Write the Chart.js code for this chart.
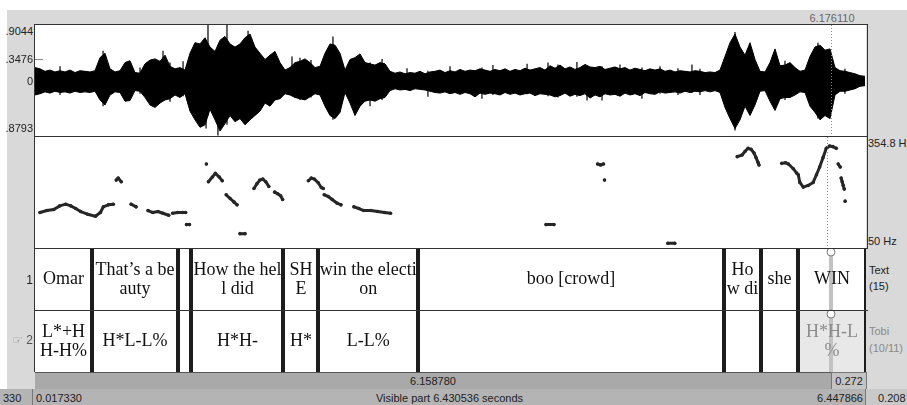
<!DOCTYPE html>
<html><head><meta charset="utf-8">
<script src="https://cdn.jsdelivr.net/npm/chart.js@4.4.1/dist/chart.umd.min.js"></script>
<style>
body{margin:0;width:907px;height:405px;position:relative;overflow:hidden;background:#fff;font-family:"Liberation Sans",Arial,sans-serif;}
.a{position:absolute}
.l{position:absolute;font-size:11px;line-height:14px;color:#222;white-space:nowrap}
.r{text-align:right}
.hl{position:absolute;height:1px;background:#333}
.vl{position:absolute;width:1px;background:#333}
canvas{position:absolute;display:block}
</style></head><body>
<div class="a" style="left:7px;top:10px;width:900px;height:395px;background:#d9d9d9"></div>
<div class="a" style="left:35px;top:25px;width:831px;height:347px;background:#fff"></div>
<canvas id="wave" width="831" height="111" style="left:35px;top:25px"></canvas>
<canvas id="pitch" width="831" height="110" style="left:35px;top:137px"></canvas>
<canvas id="tiers" width="831" height="124" style="left:35px;top:248px"></canvas>

<div class="hl" style="left:34px;top:24px;width:834px"></div>
<div class="hl" style="left:34px;top:136px;width:834px"></div>
<div class="hl" style="left:34px;top:248px;width:834px"></div>
<div class="hl" style="left:34px;top:310px;width:834px"></div>
<div class="vl" style="left:34px;top:24px;height:348px"></div>
<div class="vl" style="left:867px;top:24px;height:224px"></div>
<div class="a" style="left:35px;top:59px;width:8px;height:1px;background:#888"></div>

<!-- bottom rows -->
<div class="a" style="left:35px;top:372px;width:796px;height:16px;background:#a9a9a9;border-top:1px solid #555;border-bottom:1px solid #888"></div>
<div class="a" style="left:831px;top:372px;width:34px;height:16px;background:#c4c4c4;border:1px solid #777;border-bottom-color:#888"></div>
<div class="a" style="left:0px;top:389px;width:32px;height:16px;background:#b4b4b4;border-right:1px solid #777"></div>
<div class="a" style="left:33px;top:389px;width:832px;height:16px;background:#b4b4b4;border-right:1px solid #777"></div>
<div class="a" style="left:866px;top:389px;width:41px;height:16px;background:#c9c9c9"></div>

<div class="l" style="left:35px;top:373px;width:796px;line-height:16px;text-align:center">6.158780</div>
<div class="l" style="left:832px;top:373px;width:34px;line-height:16px;text-align:center">0.272</div>
<div class="l" style="left:3px;top:390px;line-height:16px">330</div>
<div class="l" style="left:36px;top:390px;line-height:16px">0.017330</div>
<div class="l" style="left:33px;top:390px;width:833px;line-height:16px;text-align:center">Visible part 6.430536 seconds</div>
<div class="l r" style="left:760px;top:390px;width:103px;line-height:16px">6.447866</div>
<div class="l" style="left:878px;top:390px;line-height:16px">0.208</div>

<div class="l r" style="left:0;width:33px;top:24px">.9044</div>
<div class="l r" style="left:0;width:33px;top:52px">.3476</div>
<div class="l r" style="left:0;width:33px;top:74px">0</div>
<div class="l r" style="left:0;width:33px;top:121px">.8793</div>
<div class="l" style="left:868px;top:136px">354.8 Hz</div>
<div class="l" style="left:868px;top:234px">50 Hz</div>
<div class="l" style="left:869px;top:263px">Text</div>
<div class="l" style="left:869px;top:279px">(15)</div>
<div class="l" style="left:869px;top:324px;color:#8a8a8a">Tobi</div>
<div class="l" style="left:869px;top:341px;color:#8a8a8a">(10/11)</div>
<div class="l r" style="left:0;width:33px;top:273px;font-size:12px">1</div>
<div class="l r" style="left:0;width:33px;top:333px;font-size:12px"><span style="color:#8f8f8f;font-family:'DejaVu Sans';font-size:12px">☞</span> <span style="color:#555">2</span></div>
<div class="l" style="left:792px;top:11px;width:80px;text-align:center;color:#666">6.176110</div>

<script>
// ---- time window ----
const tMin = 0.017330;
const tMax = 6.447866;
const cursorTime = 6.176110;

// ---- waveform envelope (amplitude), sampled on a regular time grid ----
const waveT0 = 0.01733;
const waveDt = 0.038692;
const waveTop = [0.22,0.20,0.16,0.18,0.15,0.17,0.15,0.18,0.14,0.17,0.16,0.15,0.17,0.38,0.45,0.20,0.15,0.17,0.30,0.33,
0.14,0.13,0.28,0.34,0.36,0.32,0.42,0.24,0.20,0.22,0.18,0.45,0.62,0.60,0.70,0.55,0.48,0.66,0.72,0.60,
0.55,0.60,0.70,0.76,0.55,0.45,0.35,0.42,0.48,0.30,0.18,0.22,0.30,0.32,0.36,0.30,0.22,0.24,0.45,0.60,
0.58,0.45,0.18,0.35,0.38,0.44,0.30,0.28,0.26,0.30,0.28,0.16,0.13,0.15,0.12,0.14,0.13,0.16,0.12,0.15,
0.16,0.18,0.14,0.17,0.15,0.19,0.16,0.18,0.17,0.20,0.18,0.16,0.19,0.17,0.20,0.16,0.19,0.17,0.21,0.18,
0.20,0.22,0.18,0.25,0.21,0.26,0.20,0.23,0.19,0.22,0.27,0.23,0.22,0.24,0.19,0.21,0.23,0.20,0.22,0.18,
0.21,0.19,0.17,0.20,0.18,0.20,0.16,0.18,0.15,0.17,0.16,0.15,0.17,0.16,0.14,0.15,0.14,0.18,0.40,0.62,
0.76,0.55,0.42,0.62,0.35,0.16,0.15,0.30,0.52,0.25,0.26,0.30,0.22,0.16,0.18,0.40,0.55,0.58,0.50,0.52,
0.22,0.17,0.16,0.14,0.12,0.09,0.08];
const waveBot = [-0.22,-0.20,-0.17,-0.19,-0.16,-0.18,-0.17,-0.19,-0.16,-0.18,-0.17,-0.18,-0.16,-0.30,-0.38,-0.22,-0.17,-0.18,-0.32,-0.31,
-0.15,-0.16,-0.26,-0.38,-0.42,-0.35,-0.30,-0.28,-0.22,-0.26,-0.20,-0.48,-0.62,-0.74,-0.70,-0.45,-0.62,-0.80,-0.68,-0.55,
-0.65,-0.60,-0.70,-0.62,-0.55,-0.48,-0.35,-0.40,-0.30,-0.28,-0.20,-0.22,-0.26,-0.28,-0.30,-0.25,-0.20,-0.22,-0.40,-0.55,
-0.60,-0.50,-0.18,-0.35,-0.55,-0.40,-0.32,-0.30,-0.32,-0.28,-0.26,-0.15,-0.12,-0.14,-0.13,-0.15,-0.12,-0.13,-0.14,-0.16,
-0.18,-0.19,-0.17,-0.20,-0.18,-0.21,-0.18,-0.20,-0.25,-0.19,-0.21,-0.19,-0.20,-0.22,-0.18,-0.21,-0.19,-0.22,-0.20,-0.19,
-0.23,-0.20,-0.21,-0.22,-0.25,-0.23,-0.19,-0.24,-0.21,-0.23,-0.20,-0.27,-0.22,-0.25,-0.20,-0.22,-0.21,-0.24,-0.19,-0.22,
-0.20,-0.23,-0.18,-0.20,-0.21,-0.17,-0.19,-0.18,-0.17,-0.19,-0.16,-0.18,-0.16,-0.17,-0.15,-0.17,-0.15,-0.18,-0.42,-0.60,
-0.76,-0.62,-0.40,-0.55,-0.38,-0.16,-0.15,-0.32,-0.47,-0.28,-0.26,-0.26,-0.22,-0.17,-0.18,-0.40,-0.50,-0.62,-0.55,-0.60,
-0.22,-0.16,-0.16,-0.14,-0.12,-0.08,-0.07];
// single excursions that stick out of the envelope
const spikeT   = [0.211, 0.544, 0.830, 1.008, 1.062, 1.163, 1.341, 1.356, 1.433, 1.503, 1.666, 2.006, 2.068, 2.153,
                  2.323, 2.610, 2.703, 2.896, 3.058, 3.229, 3.476, 3.561, 3.825, 3.987, 4.064, 4.211, 4.289, 4.405,
                  4.544, 4.714, 4.854, 4.993, 5.101, 5.163, 5.434, 5.821, 6.076, 6.285];
const spikeTop = [0.24, 0.49, 0.22, 0.49, 0.30, 0.32, 0.60, 0.92, 0.55, 0.92, 0.81, 0.40, 0.38, 0.34,
                  0.72, 0.30, 0.36, 0.21, 0.17, 0.24, 0.22, 0.26, 0.28, 0.30, 0.27, 0.31, 0.25, 0.24,
                  0.27, 0.22, 0.24, 0.21, 0.27, 0.20, 0.79, 0.33, 0.62, 0.20];
const spikeBot = [-0.22, -0.40, -0.20, -0.30, -0.33, -0.24, -0.76, -0.55, -0.87, -0.70, -0.65, -0.22, -0.30, -0.26,
                  -0.62, -0.40, -0.30, -0.14, -0.25, -0.18, -0.28, -0.22, -0.21, -0.24, -0.26, -0.25, -0.31, -0.31,
                  -0.23, -0.28, -0.20, -0.22, -0.19, -0.22, -0.79, -0.30, -0.60, -0.20];

// ---- pitch (Hz); null separates voiced stretches ----
const pitchT = [0.025,0.079,0.133,0.180,0.226,0.265,0.304,0.342,0.397,0.458,0.497,0.520,0.559,0.598,null,
0.621,0.636,0.660,null, 0.737,0.776,null, 0.869,0.907,0.946,0.985,1.031,null, 1.062,1.101,1.139,1.163,null,
1.170,1.193,null, 1.325,null, 1.341,1.372,1.395,1.426,1.449,null, 1.480,1.511,1.542,1.565,null, 1.588,1.627,null,
1.697,1.720,1.743,1.766,1.789,1.813,null, 1.859,1.882,1.905,1.921,null, 2.122,2.145,2.169,2.199,2.223,2.238,null,
2.246,2.277,2.308,2.347,2.377,null, 2.478,2.517,2.555,2.610,2.664,2.718,2.764,null, 3.979,4.041,null,
4.382,4.405,4.428,null, 4.436,null, 4.931,4.985,null,
5.473,5.511,5.535,5.558,5.581,5.604,5.620,5.635,5.643,null,
5.821,5.850,5.873,5.911,5.937,5.950,5.962,5.989,6.027,6.066,6.092,6.117,6.143,6.169,6.195,6.220,6.247,null,
6.262,6.278,null, 6.285,6.293,6.301,6.309,null, 6.316];
const pitchHz = [141,147,150,161,166,161,153,144,136,130,141,158,164,166,null,
238,244,233,null, 166,158,null, 147,141,144,139,133,null, 139,141,141,141,null,
105,105,null, 286,null, 233,247,258,247,236,null, 194,183,172,164,null, 78,78,null,
213,227,238,241,233,219,null, 202,197,191,180,null, 236,244,241,230,216,213,null,
194,189,180,169,164,null, 158,153,147,147,144,141,139,null, 105,105,null,
286,283,286,null, 238,null, 49,49,null,
308,313,324,333,330,319,305,291,283,null,
288,290,286,272,259,254,231,217,222,231,254,277,305,333,340,338,333,null,
286,277,null, 244,233,222,211,null, 175];
const pitchMin = 50, pitchMax = 354.8;

// ---- TextGrid tiers ----
const textBounds = [0.458, 1.124, 1.228, 1.940, 2.211, 2.981, 5.349, 5.635, 5.922, 6.447866];
const textLabels = ["Omar","That’s a be\nauty","","How the hel\nl did","SH\nE","win the electi\non","boo [crowd]","Ho\nw di","she","WIN"];
const tobiBounds = [0.458, 1.124, 1.228, 1.940, 2.211, 2.981, 5.349, 5.635, 5.922, 6.447866];
const tobiLabels = ["L*+H\nH-H%","H*L-L%","","H*H-","H*","L-L%","","","","H*H-L\n%"];
const selectedTobi = 9;

// ---- build ----
const baseOpts = (ymin, ymax) => ({
  responsive:false, animation:false, events:[],
  layout:{padding:0},
  scales:{
    x:{type:'linear', min:tMin, max:tMax, display:false, offset:false},
    y:{type:'linear', min:ymin, max:ymax, display:false}
  },
  plugins:{legend:{display:false}, tooltip:{enabled:false}}
});

const cursorDotted = {
  id:'cursorDotted',
  afterDraw(chart){
    const ctx = chart.ctx, x = Math.round(chart.scales.x.getPixelForValue(cursorTime)) + 0.5;
    ctx.save();
    ctx.strokeStyle = '#8a8a8a'; ctx.lineWidth = 1; ctx.setLineDash([1,2]);
    ctx.beginPath(); ctx.moveTo(x, 0); ctx.lineTo(x, chart.height); ctx.stroke();
    ctx.restore();
  }
};

const spikeData = [];
spikeT.forEach((t,i)=>{ spikeData.push({x:t,y:spikeBot[i]},{x:t,y:spikeTop[i]},{x:t,y:null}); });

new Chart(document.getElementById('wave'), {
  type:'line',
  data:{datasets:[
    {data: waveTop.map((v,i)=>({x: waveT0 + i*waveDt, y: v})), fill:'+1', backgroundColor:'#000',
     borderColor:'#000', borderWidth:1, pointRadius:0, tension:0},
    {data: waveBot.map((v,i)=>({x: waveT0 + i*waveDt, y: v})), fill:false,
     borderColor:'#000', borderWidth:1, pointRadius:0, tension:0},
    {data: spikeData, fill:false, borderColor:'#000', borderWidth:1.2, pointRadius:0, spanGaps:false}
  ]},
  options: baseOpts(-0.8793, 0.9044),
  plugins:[cursorDotted]
});

const pitchData = [];
let lastT = tMin;
pitchT.forEach((t,i)=>{
  if (t === null) { pitchData.push({x:lastT, y:null}); }
  else { lastT = t; pitchData.push({x:t, y:pitchHz[i]}); }
});
new Chart(document.getElementById('pitch'), {
  type:'line',
  data:{datasets:[
    {data: pitchData, borderColor:'#262626', borderWidth:3, borderCapStyle:'round', borderJoinStyle:'round',
     pointRadius:1.8, pointBackgroundColor:'#262626', pointBorderWidth:0, spanGaps:false, tension:0, clip:false}
  ]},
  options: baseOpts(pitchMin, pitchMax),
  plugins:[cursorDotted]
});

const tierPlugin = {
  id:'tierPlugin',
  afterDraw(chart){
    const ctx = chart.ctx, xs = chart.scales.x, ys = chart.scales.y;
    const tiers = [{b:textBounds, l:textLabels, top:2}, {b:tobiBounds, l:tobiLabels, top:1}];
    const cx = Math.round(xs.getPixelForValue(cursorTime));
    ctx.save();
    // selected interval background
    {
      const tier = tiers[1];
      const x0 = xs.getPixelForValue(tier.b[selectedTobi-1]);
      const x1 = xs.getPixelForValue(tier.b[selectedTobi]);
      const y0 = ys.getPixelForValue(tier.top), y1 = ys.getPixelForValue(tier.top-1);
      ctx.fillStyle = '#e8e8e8'; ctx.fillRect(x0, y0+1, x1-x0, y1-y0-1);
    }
    // cursor band
    ctx.fillStyle = '#c2c2c2';
    ctx.fillRect(cx-2, ys.getPixelForValue(2)+8, 4, ys.getPixelForValue(0)-ys.getPixelForValue(2)-8);
    // labels
    ctx.textAlign = 'center'; ctx.textBaseline = 'alphabetic';
    ctx.font = '18px "Liberation Serif", "Times New Roman", serif';
    tiers.forEach((tier, ti) => {
      const y0 = ys.getPixelForValue(tier.top), y1 = ys.getPixelForValue(tier.top-1);
      const cy = (y0+y1)/2;
      tier.l.forEach((lab, i) => {
        if (!lab) return;
        const ta = i === 0 ? tMin : tier.b[i-1];
        const tb = tier.b[i];
        const mx = (xs.getPixelForValue(ta) + xs.getPixelForValue(tb))/2;
        const lines = lab.split('\n');
        const lh = 19;
        ctx.fillStyle = (ti === 1 && i === selectedTobi) ? '#8c8c8c' : '#111';
        lines.forEach((ln, k) => {
          const by = cy + 5 + (k - (lines.length-1)/2)*lh;
          ctx.fillText(ln, mx, by);
        });
      });
    });
    // boundaries
    ctx.fillStyle = '#1c1c1c';
    tiers.forEach(tier => {
      const y0 = ys.getPixelForValue(tier.top), y1 = ys.getPixelForValue(tier.top-1);
      tier.b.forEach(t => {
        const px = Math.round(xs.getPixelForValue(t));
        ctx.fillRect(px-2, y0, 4, y1-y0);
      });
    });
    // cursor circles
    ctx.strokeStyle = '#7a7a7a'; ctx.lineWidth = 1;
    [2,1].forEach(v => {
      const y = ys.getPixelForValue(v) + 4;
      ctx.beginPath(); ctx.arc(cx, y, 4, 0, Math.PI*2);
      ctx.fillStyle = '#fff'; ctx.fill(); ctx.stroke();
    });
    ctx.restore();
  }
};

new Chart(document.getElementById('tiers'), {
  type:'scatter',
  data:{datasets:[{data:[], pointRadius:0}]},
  options: baseOpts(0, 2),
  plugins:[tierPlugin]
});
</script>
</body></html>
